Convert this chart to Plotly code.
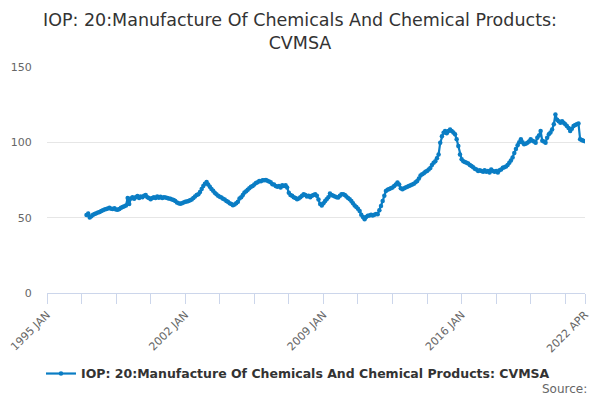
import pandas as pd
import plotly.graph_objects as go

series_name = "IOP: 20:Manufacture Of Chemicals And Chemical Products: CVMSA"
title_text = "IOP: 20:Manufacture Of Chemicals And Chemical Products:<br>CVMSA"
start_month = "1997-01-01"

values = [
    51.7, 52.8, 50.1, 51.0, 52.0, 52.5, 53.0, 53.4, 53.8, 54.5, 55.0, 55.5,  # 1997
    55.8, 56.1, 56.5, 56.0, 55.7, 56.2, 55.5, 55.2, 55.8, 56.5, 57.0, 57.5,  # 1998
    58.0, 63.0, 59.0, 62.7, 63.5, 62.5, 63.5, 64.4, 63.0, 64.0, 63.5, 64.5,  # 1999
    65.1, 63.5, 63.0, 62.3, 63.0, 63.5, 63.0, 64.0, 63.2, 63.8, 63.0, 63.5,  # 2000
    63.4, 63.0, 62.8, 62.5, 62.0, 61.8, 61.0, 60.0, 59.6, 59.3, 59.5, 60.0,  # 2001
    60.5, 60.8, 61.1, 61.5, 62.0, 63.0, 64.0, 65.0, 65.6, 67.0, 69.0, 71.0,  # 2002
    72.5, 73.7, 72.0, 70.5, 69.0, 67.8, 66.5, 65.5, 64.5, 63.8, 63.4, 62.5,  # 2003
    62.0, 61.1, 60.5, 59.5, 59.0, 58.3, 58.8, 59.5, 60.5, 62.7, 63.5, 65.0,  # 2004
    66.7, 67.5, 68.5, 69.5, 70.5, 71.0, 72.0, 73.0, 73.5, 74.4, 74.2, 74.8,  # 2005
    74.8, 75.0, 74.5, 74.0, 73.5, 72.2, 72.0, 71.0, 70.5, 71.0, 70.0, 71.5,  # 2006
    71.0, 71.5, 70.0, 66.5, 65.0, 64.5, 63.5, 63.0, 62.3, 62.8, 63.5, 64.5,  # 2007
    65.6, 65.0, 64.0, 64.5, 63.5, 64.5, 65.0, 65.6, 64.5, 62.0, 59.0, 58.0,  # 2008
    59.5, 61.0, 62.3, 63.5, 66.0, 65.0, 64.5, 64.0, 63.5, 63.4, 64.5, 65.6,  # 2009
    65.6, 65.0, 64.0, 63.0, 62.3, 61.0, 59.5, 58.0, 57.0, 56.0, 54.5, 52.0,  # 2010
    50.5, 49.0, 50.5, 51.2, 51.5, 52.0, 51.5, 52.0, 52.5, 52.3, 55.0, 57.8,  # 2011
    61.0, 64.5, 67.7, 68.5, 69.0, 69.5, 70.0, 71.0, 72.0, 73.3, 72.0, 69.5,  # 2012
    68.9, 69.5, 70.0, 70.5, 71.0, 71.5, 72.0, 72.5, 73.5, 74.4, 76.0, 78.0,  # 2013
    78.8, 79.5, 80.5, 81.0, 82.0, 83.0, 85.0, 86.5, 87.5, 89.5, 92.0, 99.8,  # 2014
    104.0, 106.4, 107.5, 106.0, 107.5, 108.6, 107.5, 106.5, 105.3, 102.0, 97.6, 92.0,  # 2015
    88.7, 87.5, 87.0, 86.5, 86.0, 85.0, 84.3, 83.5, 82.5, 82.0, 81.0, 81.5,  # 2016
    81.0, 80.5, 81.5, 80.5, 81.0, 80.0, 82.0, 81.0, 80.5, 81.0, 80.0, 81.5,  # 2017
    82.0, 83.2, 83.5, 84.0, 85.0, 86.5, 88.0, 90.0, 93.0, 95.5, 98.0, 100.0,  # 2018
    102.0, 100.0, 98.7, 99.0, 99.8, 100.5, 102.0, 101.0, 100.5, 99.8, 103.0, 104.5,  # 2019
    107.5, 101.0, 100.5, 99.8, 103.0, 105.3, 106.5, 108.6, 112.0, 118.5, 115.0, 114.0,  # 2020
    113.0, 114.0, 113.0, 112.0, 110.8, 109.5, 107.5, 109.0, 110.8, 111.5, 112.0, 112.5,  # 2021
    102.0, 101.5, 101.0, 100.8,  # 2022
]

x_range = ["1995-01-01", "2022-04-01"]
tick_dates = ["1995-01-01", "2002-01-01", "2009-01-01", "2016-01-01", "2022-04-01"]
tick_labels = ["1995 JAN", "2002 JAN", "2009 JAN", "2016 JAN", "2022 APR"]
y_ticks = [0, 50, 100, 150]

dates = pd.date_range(start=start_month, periods=len(values), freq="MS")

LINE = "#0a7dc4"
FONT = "DejaVu Sans"

fig = go.Figure()
fig.add_trace(go.Scatter(
    x=dates, y=values, name=series_name,
    mode="lines+markers",
    line=dict(color=LINE, width=2.2),
    marker=dict(color=LINE, size=4.5),
))

fig.update_layout(
    width=600, height=400,
    margin=dict(l=47, r=15, t=67, b=106),
    paper_bgcolor="white", plot_bgcolor="white",
    font=dict(family=FONT, color="#666666", size=11),
    title=dict(text=title_text, x=0.5, xanchor="center", y=0.935, yanchor="top",
               font=dict(family=FONT, size=17.5, color="#333333")),
    showlegend=True,
    legend=dict(orientation="h", x=0.4665, xanchor="center", y=-0.352, yanchor="middle",
                font=dict(family=FONT, size=12.5, color="#333333", weight="bold"),
                itemwidth=30, bgcolor="rgba(0,0,0,0)"),
    xaxis=dict(
        type="date", range=x_range, automargin=False,
        tickmode="array", tickvals=tick_dates, ticktext=tick_labels,
        tickangle=-45, ticks="outside", ticklen=10, tickcolor="#ccd6eb",
        showline=True, linecolor="#ccd6eb", linewidth=1,
        showgrid=False, zeroline=False,
        tickfont=dict(family=FONT, size=11, color="#666666"),
        minor=dict(tick0="1995-01-01", dtick="M21", ticks="outside", ticklen=10,
                   tickcolor="#ccd6eb", showgrid=False),
    ),
    yaxis=dict(
        range=[0, 150], tickmode="array", tickvals=y_ticks, automargin=False,
        showgrid=True, gridcolor="#e6e6e6", gridwidth=1,
        zeroline=False, showline=False,
        ticks="outside", ticklen=12, tickcolor="rgba(0,0,0,0)",
        tickfont=dict(family=FONT, size=11, color="#666666"),
    ),
    annotations=[dict(text="Source:", xref="paper", yref="paper", x=1, y=-0.423,
                      xanchor="right", yanchor="middle", xshift=4, showarrow=False,
                      font=dict(family=FONT, size=12, color="#666666"))],
)

fig.write_html("out.html", config={"displayModeBar": False},
               post_script="document.body.style.margin='0';")
